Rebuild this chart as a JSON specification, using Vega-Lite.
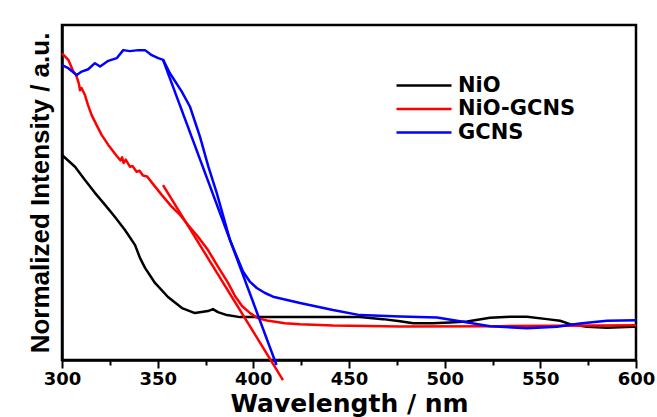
{
  "$schema": "https://vega.github.io/schema/vega-lite/v6.json",
  "width": 574,
  "height": 335,
  "autosize": "none",
  "padding": {"left": 62, "top": 25, "right": 21, "bottom": 57},
  "background": "white",
  "config": {
    "view": {"stroke": "black", "strokeWidth": 2.5},
    "axis": {"domainColor": "black", "domainWidth": 2.5, "grid": false}
  },
  "datasets": {
    "pts": [
      {"s":"NiO","g":"NiO","x":300,"y":0.612},
      {"s":"NiO","g":"NiO","x":306.8,"y":0.577},
      {"s":"NiO","g":"NiO","x":312.0,"y":0.537},
      {"s":"NiO","g":"NiO","x":317.2,"y":0.499},
      {"s":"NiO","g":"NiO","x":322.5,"y":0.463},
      {"s":"NiO","g":"NiO","x":327.7,"y":0.427},
      {"s":"NiO","g":"NiO","x":332.9,"y":0.388},
      {"s":"NiO","g":"NiO","x":338.2,"y":0.343},
      {"s":"NiO","g":"NiO","x":340.8,"y":0.304},
      {"s":"NiO","g":"NiO","x":343.4,"y":0.275},
      {"s":"NiO","g":"NiO","x":348.6,"y":0.230},
      {"s":"NiO","g":"NiO","x":355.4,"y":0.188},
      {"s":"NiO","g":"NiO","x":362.7,"y":0.155},
      {"s":"NiO","g":"NiO","x":369.5,"y":0.140},
      {"s":"NiO","g":"NiO","x":376.3,"y":0.146},
      {"s":"NiO","g":"NiO","x":378.9,"y":0.152},
      {"s":"NiO","g":"NiO","x":381.5,"y":0.143},
      {"s":"NiO","g":"NiO","x":386.2,"y":0.134},
      {"s":"NiO","g":"NiO","x":393.0,"y":0.128},
      {"s":"NiO","g":"NiO","x":407.1,"y":0.128},
      {"s":"NiO","g":"NiO","x":424.4,"y":0.128},
      {"s":"NiO","g":"NiO","x":441.6,"y":0.128},
      {"s":"NiO","g":"NiO","x":455.7,"y":0.128},
      {"s":"NiO","g":"NiO","x":467.8,"y":0.122},
      {"s":"NiO","g":"NiO","x":476.7,"y":0.116},
      {"s":"NiO","g":"NiO","x":483.5,"y":0.110},
      {"s":"NiO","g":"NiO","x":493.9,"y":0.110},
      {"s":"NiO","g":"NiO","x":502.8,"y":0.112},
      {"s":"NiO","g":"NiO","x":511.7,"y":0.115},
      {"s":"NiO","g":"NiO","x":523.7,"y":0.126},
      {"s":"NiO","g":"NiO","x":534.1,"y":0.129},
      {"s":"NiO","g":"NiO","x":543.0,"y":0.129},
      {"s":"NiO","g":"NiO","x":553.5,"y":0.122},
      {"s":"NiO","g":"NiO","x":560.3,"y":0.117},
      {"s":"NiO","g":"NiO","x":565.5,"y":0.107},
      {"s":"NiO","g":"NiO","x":574.4,"y":0.099},
      {"s":"NiO","g":"NiO","x":584.8,"y":0.096},
      {"s":"NiO","g":"NiO","x":598.4,"y":0.099},
      {"s":"NiO","g":"NiO","x":600,"y":0.099},

      {"s":"NiO-GCNS","g":"NiO-GCNS","x":300,"y":0.915},
      {"s":"NiO-GCNS","g":"NiO-GCNS","x":303.3,"y":0.896},
      {"s":"NiO-GCNS","g":"NiO-GCNS","x":305.9,"y":0.861},
      {"s":"NiO-GCNS","g":"NiO-GCNS","x":307.4,"y":0.850},
      {"s":"NiO-GCNS","g":"NiO-GCNS","x":308.5,"y":0.831},
      {"s":"NiO-GCNS","g":"NiO-GCNS","x":309.0,"y":0.820},
      {"s":"NiO-GCNS","g":"NiO-GCNS","x":309.4,"y":0.805},
      {"s":"NiO-GCNS","g":"NiO-GCNS","x":310.2,"y":0.812},
      {"s":"NiO-GCNS","g":"NiO-GCNS","x":312.0,"y":0.791},
      {"s":"NiO-GCNS","g":"NiO-GCNS","x":313.6,"y":0.761},
      {"s":"NiO-GCNS","g":"NiO-GCNS","x":315.5,"y":0.731},
      {"s":"NiO-GCNS","g":"NiO-GCNS","x":318.1,"y":0.701},
      {"s":"NiO-GCNS","g":"NiO-GCNS","x":320.7,"y":0.672},
      {"s":"NiO-GCNS","g":"NiO-GCNS","x":324.2,"y":0.642},
      {"s":"NiO-GCNS","g":"NiO-GCNS","x":328.6,"y":0.609},
      {"s":"NiO-GCNS","g":"NiO-GCNS","x":330.6,"y":0.596},
      {"s":"NiO-GCNS","g":"NiO-GCNS","x":331.4,"y":0.605},
      {"s":"NiO-GCNS","g":"NiO-GCNS","x":332.2,"y":0.588},
      {"s":"NiO-GCNS","g":"NiO-GCNS","x":333.3,"y":0.598},
      {"s":"NiO-GCNS","g":"NiO-GCNS","x":335.5,"y":0.577},
      {"s":"NiO-GCNS","g":"NiO-GCNS","x":336.8,"y":0.579},
      {"s":"NiO-GCNS","g":"NiO-GCNS","x":339.0,"y":0.562},
      {"s":"NiO-GCNS","g":"NiO-GCNS","x":340.5,"y":0.565},
      {"s":"NiO-GCNS","g":"NiO-GCNS","x":342.3,"y":0.551},
      {"s":"NiO-GCNS","g":"NiO-GCNS","x":344.5,"y":0.548},
      {"s":"NiO-GCNS","g":"NiO-GCNS","x":347.6,"y":0.525},
      {"s":"NiO-GCNS","g":"NiO-GCNS","x":352.1,"y":0.493},
      {"s":"NiO-GCNS","g":"NiO-GCNS","x":357.3,"y":0.458},
      {"s":"NiO-GCNS","g":"NiO-GCNS","x":361.7,"y":0.433},
      {"s":"NiO-GCNS","g":"NiO-GCNS","x":365.9,"y":0.403},
      {"s":"NiO-GCNS","g":"NiO-GCNS","x":371.1,"y":0.368},
      {"s":"NiO-GCNS","g":"NiO-GCNS","x":376.3,"y":0.328},
      {"s":"NiO-GCNS","g":"NiO-GCNS","x":381.5,"y":0.279},
      {"s":"NiO-GCNS","g":"NiO-GCNS","x":386.8,"y":0.230},
      {"s":"NiO-GCNS","g":"NiO-GCNS","x":390.4,"y":0.191},
      {"s":"NiO-GCNS","g":"NiO-GCNS","x":394.1,"y":0.161},
      {"s":"NiO-GCNS","g":"NiO-GCNS","x":398.3,"y":0.140},
      {"s":"NiO-GCNS","g":"NiO-GCNS","x":402.4,"y":0.125},
      {"s":"NiO-GCNS","g":"NiO-GCNS","x":407.1,"y":0.118},
      {"s":"NiO-GCNS","g":"NiO-GCNS","x":416.5,"y":0.110},
      {"s":"NiO-GCNS","g":"NiO-GCNS","x":424.4,"y":0.107},
      {"s":"NiO-GCNS","g":"NiO-GCNS","x":441.6,"y":0.103},
      {"s":"NiO-GCNS","g":"NiO-GCNS","x":476.7,"y":0.100},
      {"s":"NiO-GCNS","g":"NiO-GCNS","x":528.9,"y":0.101},
      {"s":"NiO-GCNS","g":"NiO-GCNS","x":581.2,"y":0.103},
      {"s":"NiO-GCNS","g":"NiO-GCNS","x":600,"y":0.104},
      {"s":"NiO-GCNS","g":"NiO-GCNS tangent","x":352.8,"y":0.522},
      {"s":"NiO-GCNS","g":"NiO-GCNS tangent","x":415.5,"y":-0.060},

      {"s":"GCNS","g":"GCNS","x":300,"y":0.880},
      {"s":"GCNS","g":"GCNS","x":303.3,"y":0.871},
      {"s":"GCNS","g":"GCNS","x":307.7,"y":0.851},
      {"s":"GCNS","g":"GCNS","x":310.3,"y":0.861},
      {"s":"GCNS","g":"GCNS","x":313.7,"y":0.868},
      {"s":"GCNS","g":"GCNS","x":317.2,"y":0.886},
      {"s":"GCNS","g":"GCNS","x":319.9,"y":0.876},
      {"s":"GCNS","g":"GCNS","x":324.2,"y":0.893},
      {"s":"GCNS","g":"GCNS","x":328.6,"y":0.901},
      {"s":"GCNS","g":"GCNS","x":332.0,"y":0.925},
      {"s":"GCNS","g":"GCNS","x":335.5,"y":0.922},
      {"s":"GCNS","g":"GCNS","x":339.9,"y":0.925},
      {"s":"GCNS","g":"GCNS","x":343.4,"y":0.925},
      {"s":"GCNS","g":"GCNS","x":346.9,"y":0.910},
      {"s":"GCNS","g":"GCNS","x":350.3,"y":0.901},
      {"s":"GCNS","g":"GCNS","x":352.9,"y":0.896},
      {"s":"GCNS","g":"GCNS","x":356.4,"y":0.856},
      {"s":"GCNS","g":"GCNS","x":362.6,"y":0.801},
      {"s":"GCNS","g":"GCNS","x":366.9,"y":0.756},
      {"s":"GCNS","g":"GCNS","x":372.1,"y":0.667},
      {"s":"GCNS","g":"GCNS","x":376.5,"y":0.577},
      {"s":"GCNS","g":"GCNS","x":380.9,"y":0.498},
      {"s":"GCNS","g":"GCNS","x":387.8,"y":0.358},
      {"s":"GCNS","g":"GCNS","x":394.6,"y":0.264},
      {"s":"GCNS","g":"GCNS","x":398.3,"y":0.233},
      {"s":"GCNS","g":"GCNS","x":401.8,"y":0.215},
      {"s":"GCNS","g":"GCNS","x":406.1,"y":0.200},
      {"s":"GCNS","g":"GCNS","x":410.3,"y":0.189},
      {"s":"GCNS","g":"GCNS","x":424.4,"y":0.170},
      {"s":"GCNS","g":"GCNS","x":441.6,"y":0.149},
      {"s":"GCNS","g":"GCNS","x":455.7,"y":0.134},
      {"s":"GCNS","g":"GCNS","x":476.7,"y":0.130},
      {"s":"GCNS","g":"GCNS","x":496.0,"y":0.127},
      {"s":"GCNS","g":"GCNS","x":509.6,"y":0.114},
      {"s":"GCNS","g":"GCNS","x":523.7,"y":0.101},
      {"s":"GCNS","g":"GCNS","x":543.0,"y":0.095},
      {"s":"GCNS","g":"GCNS","x":558.7,"y":0.099},
      {"s":"GCNS","g":"GCNS","x":570.7,"y":0.109},
      {"s":"GCNS","g":"GCNS","x":584.8,"y":0.117},
      {"s":"GCNS","g":"GCNS","x":600,"y":0.119},
      {"s":"GCNS","g":"GCNS tangent","x":352.8,"y":0.896},
      {"s":"GCNS","g":"GCNS tangent","x":412.1,"y":-0.015}
    ]
  },
  "data": {"name": "pts"},
  "mark": {"type": "line", "strokeWidth": 2.5, "clip": false, "strokeJoin": "round"},
  "encoding": {
    "x": {
      "field": "x", "type": "quantitative",
      "scale": {"domain": [300, 600], "nice": false, "zero": false},
      "axis": {
        "values": [300,325,350,375,400,425,450,475,500,525,550,575,600],
        "labelExpr": "datum.value % 50 === 0 ? datum.label : ''",
        "tickColor": "black",
        "tickWidth": 2,
        "tickSize": {"condition": {"test": "datum.value % 50 !== 0", "value": 5}, "value": 8},
        "labelFont": "DejaVu Sans", "labelFontWeight": "bold", "labelFontSize": 18, "labelColor": "black",
        "labelPadding": 2,
        "labelFlush": false,
        "title": "Wavelength / nm",
        "titleFont": "DejaVu Sans", "titleFontWeight": "bold", "titleFontSize": 25, "titleColor": "black",
        "titlePadding": 3
      }
    },
    "y": {
      "field": "y", "type": "quantitative",
      "scale": {"domain": [0, 1], "nice": false},
      "axis": {
        "labels": false, "ticks": false,
        "title": "Normalized Intensity / a.u.",
        "titleFont": "Liberation Sans", "titleFontWeight": "bold", "titleFontSize": 26, "titleColor": "black",
        "titlePadding": 9
      }
    },
    "color": {
      "field": "s", "type": "nominal",
      "scale": {"domain": ["NiO", "NiO-GCNS", "GCNS"], "range": ["#000000", "#ff0000", "#0000ff"]},
      "legend": {
        "title": null,
        "orient": "none",
        "legendX": 349.5,
        "legendY": 48,
        "padding": 0,
        "symbolType": "M-2.5,0H2.5",
        "symbolSize": 484,
        "symbolStrokeWidth": 2.5,
        "symbolFillColor": "transparent",
        "labelFont": "DejaVu Sans", "labelFontWeight": "bold", "labelFontSize": 21, "labelColor": "black",
        "labelOffset": 21.5,
        "rowPadding": 0.5
      }
    },
    "detail": {"field": "g", "type": "nominal"}
  }
}
